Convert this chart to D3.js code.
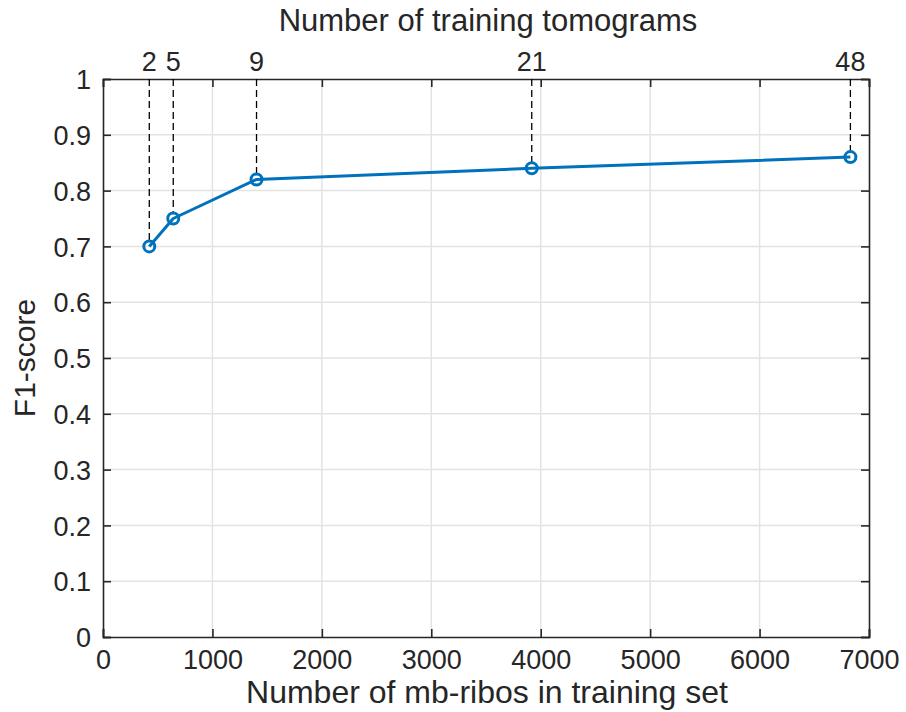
<!DOCTYPE html>
<html><head><meta charset="utf-8">
<script src="https://cdn.jsdelivr.net/npm/d3@7"></script>
<style>body{margin:0;background:#fff}text{font-family:"Liberation Sans",Arial,Helvetica,sans-serif;fill:#262626}</style>
</head><body>
<svg id="c" width="906" height="712"></svg>
<script>
const numRibos = [423, 642, 1403, 3918, 6830];
const f1Scores = [0.70, 0.75, 0.82, 0.84, 0.86];
const numTomograms = ["2", "5", "9", "21", "48"];
const xTicks = [0, 1000, 2000, 3000, 4000, 5000, 6000, 7000];
const yTicks = [0, 0.1, 0.2, 0.3, 0.4, 0.5, 0.6, 0.7, 0.8, 0.9, 1];

(function () {
const svg = d3.select("#c");
const L = 103, R = 869, T = 79, B = 637;
const x = d3.scaleLinear().domain([0, 7000]).range([L, R]);
const y = d3.scaleLinear().domain([0, 1]).range([B, T]);
const axc = "#262626", gridc = "#e3e3e3";
const tickFont = 27;

// grid
svg.append("g").selectAll("line").data(xTicks.slice(1, -1)).join("line")
  .attr("x1", d => x(d)).attr("x2", d => x(d)).attr("y1", T).attr("y2", B)
  .attr("stroke", gridc).attr("stroke-width", 1.5);
svg.append("g").selectAll("line").data(yTicks.slice(1, -1)).join("line")
  .attr("y1", d => y(d)).attr("y2", d => y(d)).attr("x1", L).attr("x2", R)
  .attr("stroke", gridc).attr("stroke-width", 1.5);

// axes (ticks inward)
const tl = 8;
const gBottom = svg.append("g").attr("transform", `translate(0,${B})`)
  .call(d3.axisBottom(x).tickValues(xTicks).tickSize(-tl).tickPadding(13).tickFormat(d3.format("d")));
const gTop = svg.append("g").attr("transform", `translate(0,${T})`)
  .call(d3.axisTop(x).tickValues(xTicks).tickSize(-tl).tickFormat(""));
const gLeft = svg.append("g").attr("transform", `translate(${L},0)`)
  .call(d3.axisLeft(y).tickValues(yTicks).tickSize(-tl).tickPadding(12).tickFormat(d => d3.format("")(d)));
const gRight = svg.append("g").attr("transform", `translate(${R},0)`)
  .call(d3.axisRight(y).tickValues(yTicks).tickSize(-tl).tickFormat(""));
[gBottom, gTop, gLeft, gRight].forEach(g => {
  g.select(".domain").attr("stroke", axc).attr("stroke-width", 1.6);
  g.selectAll(".tick line").attr("stroke", axc).attr("stroke-width", 1.6);
  g.selectAll("text").attr("font-size", tickFont).attr("fill", axc)
    .style("font-family", '"Liberation Sans",Arial,Helvetica,sans-serif');
});
gLeft.selectAll("text").attr("dy", "0.36em");

// top tomogram labels + dashed lines
svg.append("g").selectAll("line").data(numRibos).join("line")
  .attr("x1", d => x(d)).attr("x2", d => x(d))
  .attr("y1", T).attr("y2", (d, i) => y(f1Scores[i]) - 6)
  .attr("stroke", "#000").attr("stroke-width", 1.3).attr("stroke-dasharray", "7,4");
svg.append("g").selectAll("text").data(numRibos).join("text")
  .attr("x", d => x(d)).attr("y", T - 8).attr("text-anchor", "middle")
  .attr("font-size", tickFont).attr("fill", "#000").text((d, i) => numTomograms[i]);

// series line + markers
const line = d3.line().x(d => x(d[0])).y(d => y(d[1]));
const pts = numRibos.map((d, i) => [d, f1Scores[i]]);
svg.append("path").datum(pts).attr("d", line).attr("fill", "none")
  .attr("stroke", "#0072BD").attr("stroke-width", 3).attr("stroke-linejoin", "round");
svg.append("g").selectAll("circle").data(pts).join("circle")
  .attr("cx", d => x(d[0])).attr("cy", d => y(d[1])).attr("r", 5.5)
  .attr("fill", "none").attr("stroke", "#0072BD").attr("stroke-width", 3);

// axis titles
svg.append("text").attr("x", (L + R) / 2 + 2).attr("y", 31).attr("text-anchor", "middle")
  .attr("font-size", 31).attr("fill", "#000").text("Number of training tomograms");
svg.append("text").attr("x", (L + R) / 2 + 1).attr("y", 703).attr("text-anchor", "middle")
  .attr("font-size", 32).text("Number of mb-ribos in training set");
svg.append("text").attr("transform", `translate(35,${(T + B) / 2}) rotate(-90)`)
  .attr("text-anchor", "middle").attr("font-size", 30).text("F1-score");
})();
</script>
</body></html>
